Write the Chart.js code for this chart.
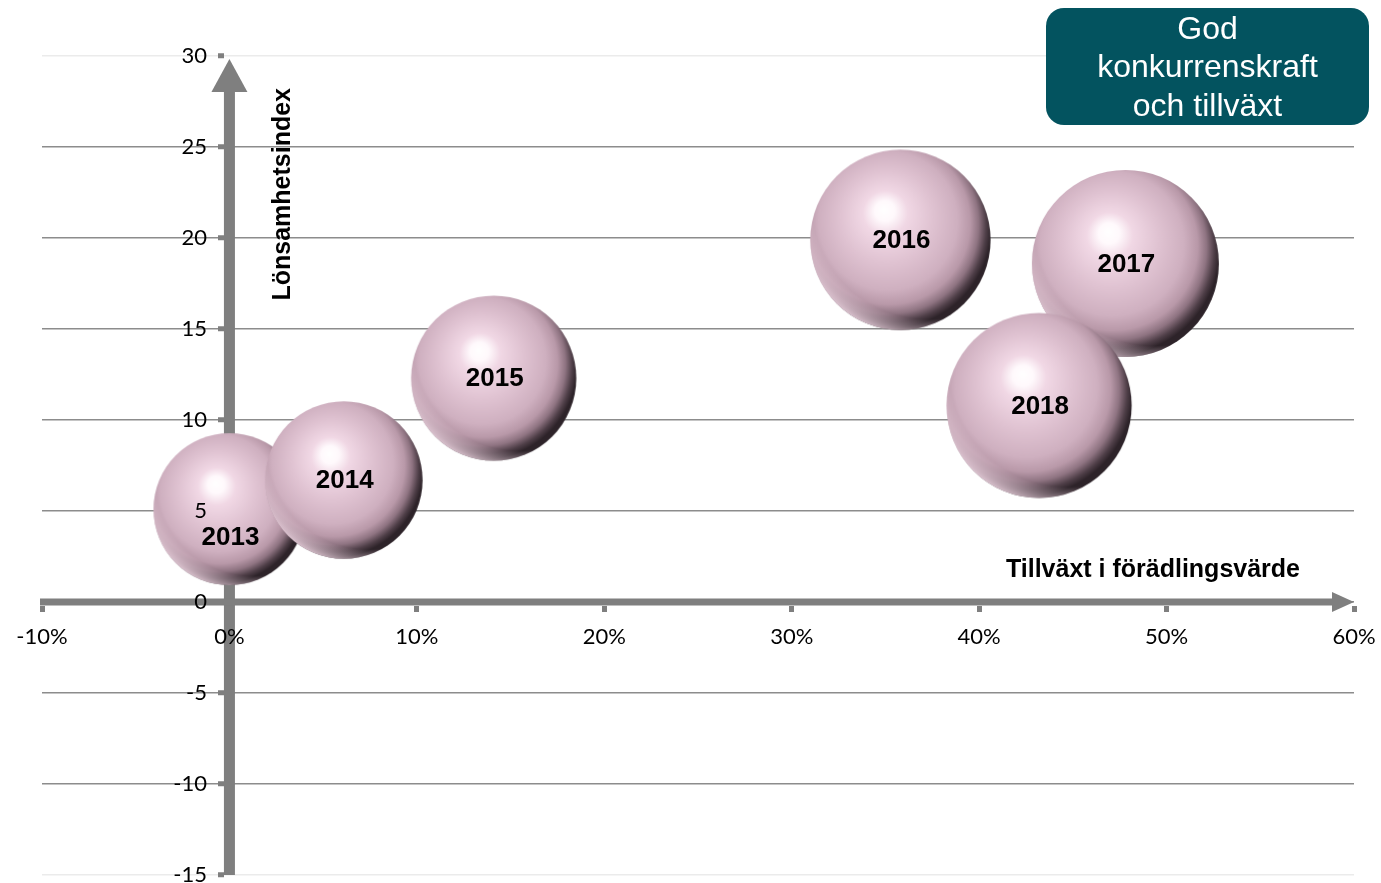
<!DOCTYPE html>
<html lang="sv">
<head>
<meta charset="utf-8">
<title>Lönsamhetsindex och tillväxt i förädlingsvärde</title>
<script src="https://cdn.jsdelivr.net/npm/chart.js@4.4.1/dist/chart.umd.min.js"></script>
<style>
  html, body { margin: 0; padding: 0; background: #fff; }
  #wrap { position: relative; width: 1381px; height: 883px; }
  #box {
    position: absolute; left: 1046px; top: 8px; width: 323px; height: 117px;
    background: #03535f; border-radius: 18px; color: #fff;
    font: 32px "Liberation Sans", Arial, sans-serif; line-height: 38.5px;
    text-align: center; display: flex; align-items: center; justify-content: center;
  }
</style>
</head>
<body>
<div id="wrap">
  <canvas id="chart" width="1381" height="883"></canvas>
  <div id="box">God<br>konkurrenskraft<br>och tillväxt</div>
</div>
<script>
const years = ['2013', '2014', '2015', '2016', '2017', '2018'];
const growth = [0.0, 6.1, 14.1, 35.8, 47.8, 43.2];   // tillväxt i förädlingsvärde, %
const profit = [5.1, 6.7, 12.3, 19.9, 18.6, 10.8];   // lönsamhetsindex
const bubbleSize = [66, 71, 78, 93, 100, 98];        // relativ bubbelstorlek
const xTicks = [-10, 0, 10, 20, 30, 40, 50, 60];
const yTicks = [-15, -10, -5, 0, 5, 10, 15, 20, 25, 30];

const MAX_R = 93.5;
const GREY = '#7f7f7f';
const tickFont = { family: 'Lato, "Open Sans", sans-serif', size: 22 };

const maxSize = Math.max(...bubbleSize);
const points = years.map((y, i) => ({
  x: growth[i],
  y: profit[i],
  r: MAX_R * Math.sqrt(bubbleSize[i] / maxSize)
}));

// glossy sphere drawn once per bubble, used as the point style
function makeSphere(r) {
  const s = Math.ceil(r * 2) + 2;
  const c = document.createElement('canvas');
  c.width = c.height = s;
  const g = c.getContext('2d');
  const cx = s / 2, cy = s / 2;
  g.beginPath();
  g.arc(cx, cy, r, 0, Math.PI * 2);
  g.closePath();
  g.save();
  g.clip();

  let grad = g.createRadialGradient(cx - 0.18 * r, cy - 0.34 * r, 0, cx - 0.12 * r, cy - 0.15 * r, 1.13 * r);
  grad.addColorStop(0, '#ffffff');
  grad.addColorStop(0.1, '#fff9fc');
  grad.addColorStop(0.22, '#f1d8e5');
  grad.addColorStop(0.45, '#e0c3d2');
  grad.addColorStop(0.68, '#cfb0c0');
  grad.addColorStop(0.8, '#b999a9');
  grad.addColorStop(0.88, '#8f7482');
  grad.addColorStop(0.95, '#4f3f48');
  grad.addColorStop(1, '#2d2329');
  g.fillStyle = grad;
  g.fillRect(0, 0, s, s);

  // light rim along the lower left edge
  grad = g.createRadialGradient(cx + 0.3 * r, cy - 0.4 * r, 1.28 * r, cx + 0.3 * r, cy - 0.4 * r, 1.5 * r);
  grad.addColorStop(0, 'rgba(242,216,229,0)');
  grad.addColorStop(1, 'rgba(242,216,229,0.85)');
  g.fillStyle = grad;
  g.fillRect(0, 0, s, s);
  g.restore();
  return c;
}
const spheres = points.map(p => makeSphere(p.r));

function noPadding(scale) {
  scale.paddingTop = 0;
  scale.paddingBottom = 0;
  scale.paddingLeft = 0;
  scale.paddingRight = 0;
}

const axisArrows = {
  id: 'axisArrows',
  beforeDatasetsDraw(chart) {
    const { ctx, chartArea: a, scales: { x, y } } = chart;
    const x0 = x.getPixelForValue(0);
    const y0 = y.getPixelForValue(0);
    ctx.save();
    ctx.fillStyle = GREY;
    // y axis with arrow head
    ctx.fillRect(x0 - 5.5, a.top + 30, 11, a.bottom - a.top - 30);
    ctx.beginPath();
    ctx.moveTo(x0, a.top + 3);
    ctx.lineTo(x0 - 18, a.top + 36);
    ctx.lineTo(x0 + 18, a.top + 36);
    ctx.closePath();
    ctx.fill();
    // x axis with arrow head
    ctx.fillRect(a.left - 2, y0 - 3.5, a.right - a.left - 18, 7);
    ctx.beginPath();
    ctx.moveTo(a.right, y0);
    ctx.lineTo(a.right - 22, y0 - 10);
    ctx.lineTo(a.right - 22, y0 + 10);
    ctx.closePath();
    ctx.fill();

    // axis titles
    ctx.fillStyle = '#000';
    ctx.font = 'bold 25px "Liberation Sans", Arial, sans-serif';
    ctx.textBaseline = 'middle';
    ctx.textAlign = 'right';
    ctx.fillText('Tillväxt i förädlingsvärde', a.right - 54, y0 - 32);
    ctx.translate(x0 + 54, a.top + 32);
    ctx.rotate(-Math.PI / 2);
    ctx.fillText('Lönsamhetsindex', 0, 0);
    ctx.restore();
  }
};

const yearLabels = {
  id: 'yearLabels',
  afterDatasetsDraw(chart) {
    const ctx = chart.ctx;
    const meta = chart.getDatasetMeta(0);
    ctx.save();
    ctx.font = 'bold 26px "Liberation Sans", Arial, sans-serif';
    ctx.fillStyle = '#000';
    ctx.textAlign = 'center';
    ctx.textBaseline = 'middle';
    meta.data.forEach((pt, i) => {
      // 2013 label sits below the "5" tick label, as in the original
      const shift = i === 0 ? 28 : 0;
      ctx.fillText(years[i], pt.x + 1, pt.y + shift + 1);
    });
    ctx.restore();
  }
};

new Chart(document.getElementById('chart'), {
  type: 'bubble',
  data: {
    datasets: [{
      label: 'År',
      data: points,
      pointStyle: c => spheres[c.dataIndex],
      backgroundColor: '#cfb0c0',
      borderWidth: 0
    }]
  },
  options: {
    responsive: false,
    animation: false,
    devicePixelRatio: 1,
    events: [],
    layout: { autoPadding: false, padding: { left: 42, right: 27, top: 56, bottom: 8 } },
    plugins: { legend: { display: false }, tooltip: { enabled: false } },
    scales: {
      x: {
        type: 'linear',
        position: { y: 0 },
        min: xTicks[0],
        max: xTicks[xTicks.length - 1],
        afterFit: noPadding,
        ticks: {
          stepSize: xTicks[1] - xTicks[0],
          callback: v => v + '%',
          font: tickFont,
          color: '#000',
          padding: 16,
          z: 1
        },
        grid: { drawOnChartArea: false, tickLength: 6, tickWidth: 5, tickColor: GREY },
        border: { display: true, width: 7, color: 'rgba(0,0,0,0)' }
      },
      y: {
        type: 'linear',
        position: { x: 0 },
        min: yTicks[0],
        max: yTicks[yTicks.length - 1],
        afterFit: noPadding,
        ticks: {
          stepSize: yTicks[1] - yTicks[0],
          // labels of a y axis placed at x = 0 are right-aligned on the axis itself;
          // trailing spaces give them the gap they have in the original
          callback: v => v + '    ',
          font: tickFont,
          color: '#000',
          z: 1
        },
        grid: {
          color: c => (c.tick && (c.tick.value === yTicks[0] || c.tick.value === yTicks[yTicks.length - 1])) ? '#ebebeb' : '#8c8c8c',
          lineWidth: 1.5,
          tickLength: 6,
          tickWidth: 5,
          tickColor: GREY
        },
        border: { display: true, width: 11, color: 'rgba(0,0,0,0)' }
      }
    }
  },
  plugins: [axisArrows, yearLabels]
});
</script>
</body>
</html>
